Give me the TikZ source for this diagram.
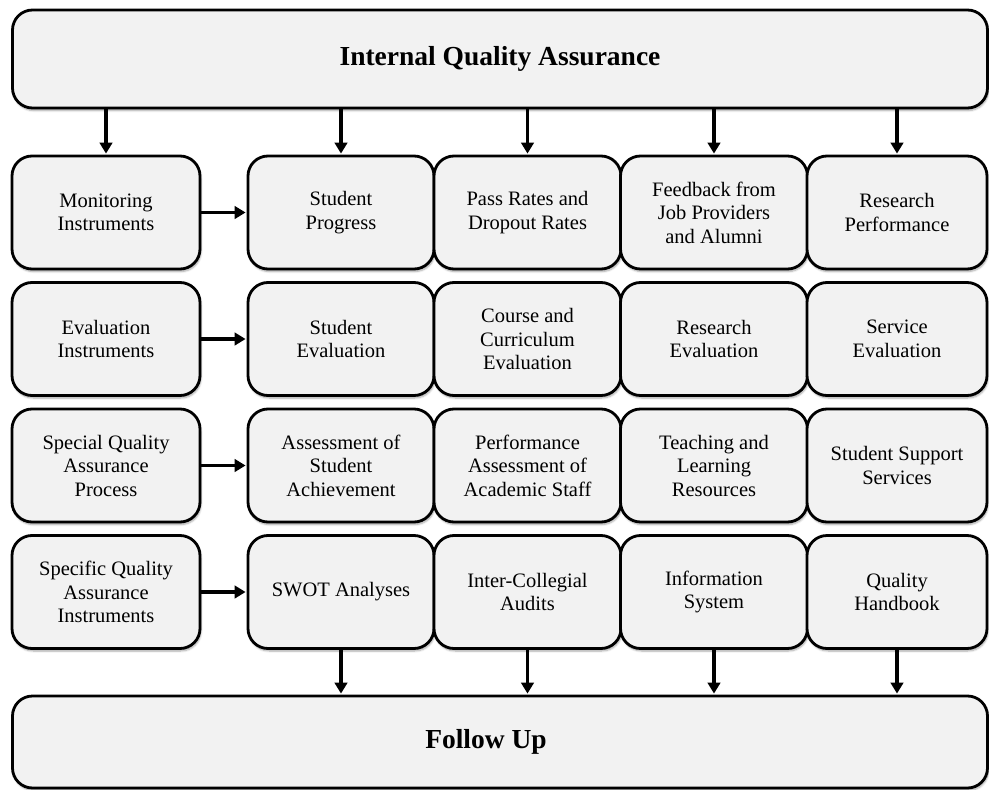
\documentclass[tikz,border=0pt]{standalone}
\usepackage{fontspec}
\setmainfont{Liberation Serif}
\usetikzlibrary{arrows.meta,shadows.blur}

\definecolor{boxfill}{HTML}{F2F2F2}

\tikzset{
  box/.style={draw=black, line width=2.8pt, fill=boxfill, rounded corners=20pt,
    align=center, inner sep=2pt,
    font=\fontsize{20.5}{23.5}\selectfont,
    blur shadow={shadow xshift=1pt, shadow yshift=-2.5pt, shadow blur steps=6,
      shadow opacity=35}},
  cellbox/.style={box, minimum height=113pt},
  bigbox/.style={box, font=\fontsize{27.5}{32}\selectfont\bfseries},
  arr/.style={line width=3.2pt, -{Triangle[length=11pt,width=12.5pt]}, shorten >=1pt}
}

\begin{document}
\begin{tikzpicture}[x=1pt, y=-1pt]
  \useasboundingbox (0,0) rectangle (989,790);

  % header and footer
  \node[bigbox, minimum width=975pt, minimum height=98pt] (iqa) at (500,59) {Internal Quality Assurance};
  \node[bigbox, minimum width=975pt, minimum height=92pt] (fu) at (500,742) {\hspace*{-28pt}Follow Up};

  % row 1: monitoring
  \node[cellbox, minimum width=188pt] (m0) at (106,212.5) {Monitoring\\Instruments};
  \node[cellbox, minimum width=186pt] (m1) at (341,212.5) {Student\\Progress};
  \node[cellbox, minimum width=187pt] (m2) at (527.5,212.5) {Pass Rates and\\Dropout Rates};
  \node[cellbox, minimum width=187pt] (m3) at (714,212.5) {Feedback from\\Job Providers\\and Alumni};
  \node[cellbox, minimum width=180pt] (m4) at (897,212.5) {Research\\Performance};

  % row 2: evaluation
  \node[cellbox, minimum width=188pt] (e0) at (106,339) {Evaluation\\Instruments};
  \node[cellbox, minimum width=186pt] (e1) at (341,339) {Student\\Evaluation};
  \node[cellbox, minimum width=187pt] (e2) at (527.5,339) {Course and\\Curriculum\\Evaluation};
  \node[cellbox, minimum width=187pt] (e3) at (714,339) {Research\\Evaluation};
  \node[cellbox, minimum width=180pt] (e4) at (897,339) {Service\\Evaluation};

  % row 3: special process
  \node[cellbox, minimum width=188pt] (s0) at (106,465.5) {Special Quality\\Assurance\\Process};
  \node[cellbox, minimum width=186pt] (s1) at (341,465.5) {Assessment of\\Student\\Achievement};
  \node[cellbox, minimum width=187pt] (s2) at (527.5,465.5) {Performance\\Assessment of\\Academic Staff};
  \node[cellbox, minimum width=187pt] (s3) at (714,465.5) {Teaching and\\Learning\\Resources};
  \node[cellbox, minimum width=180pt] (s4) at (897,465.5) {Student Support\\Services};

  % row 4: specific instruments
  \node[cellbox, minimum width=188pt] (q0) at (106,592) {Specific Quality\\Assurance\\Instruments};
  \node[cellbox, minimum width=186pt] (q1) at (341,592) {SWOT Analyses};
  \node[cellbox, minimum width=187pt] (q2) at (527.5,592) {Inter-Collegial\\Audits};
  \node[cellbox, minimum width=187pt] (q3) at (714,592) {Information\\System};
  \node[cellbox, minimum width=180pt] (q4) at (897,592) {Quality\\Handbook};

  % header feeds the first row
  \foreach \n in {m0,m1,m2,m3,m4}
    \draw[arr] (iqa.south -| \n.north) -- (\n.north);

  % instrument groups point to their rows
  \draw[arr] (m0.east) -- (m1.west);
  \draw[arr] (e0.east) -- (e1.west);
  \draw[arr] (s0.east) -- (s1.west);
  \draw[arr] (q0.east) -- (q1.west);

  % last row feeds the follow-up
  \foreach \n in {q1,q2,q3,q4}
    \draw[arr] (\n.south) -- (fu.north -| \n.south);
\end{tikzpicture}
\end{document}
